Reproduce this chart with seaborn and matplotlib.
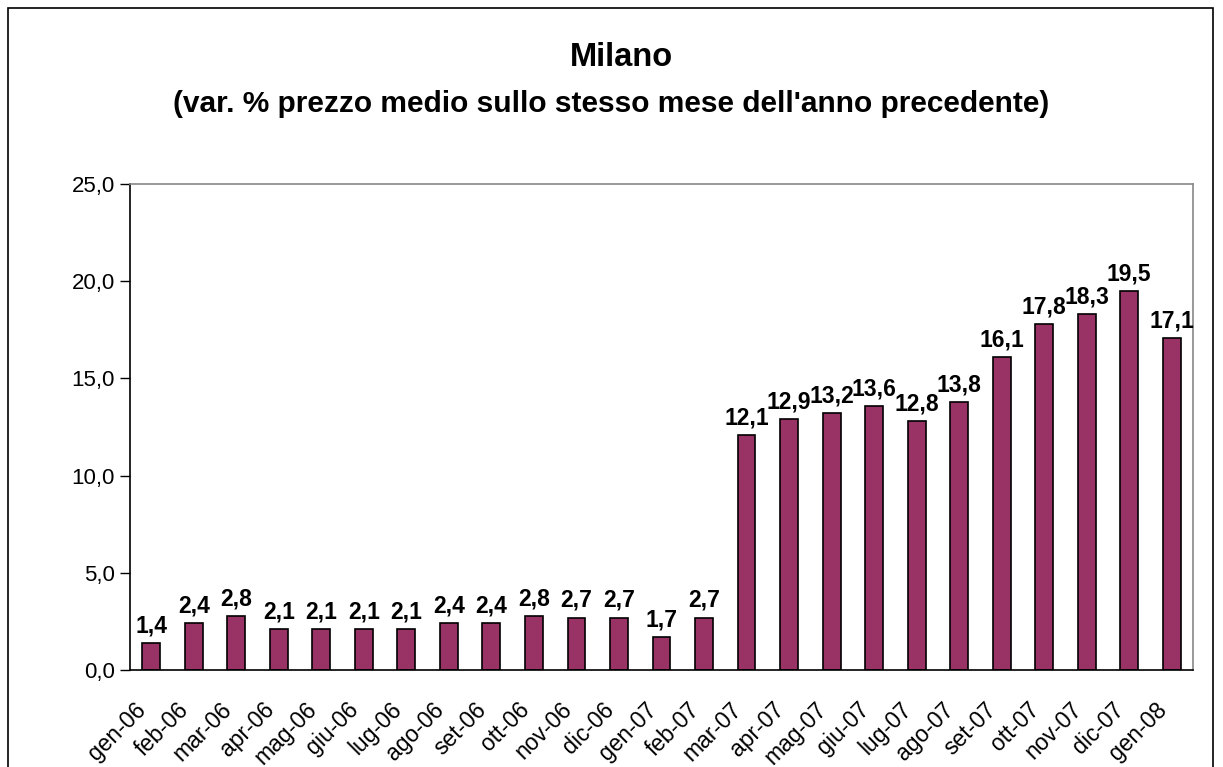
import matplotlib
matplotlib.use("Agg")
import matplotlib.pyplot as plt
import matplotlib.patches as mpatches
import seaborn as sns
import pandas as pd
import numpy as np

months = ["gen-06", "feb-06", "mar-06", "apr-06", "mag-06", "giu-06", "lug-06", "ago-06",
          "set-06", "ott-06", "nov-06", "dic-06", "gen-07", "feb-07", "mar-07", "apr-07",
          "mag-07", "giu-07", "lug-07", "ago-07", "set-07", "ott-07", "nov-07", "dic-07", "gen-08"]
values = [1.4, 2.4, 2.8, 2.1, 2.1, 2.1, 2.1, 2.4, 2.4, 2.8, 2.7, 2.7, 1.7, 2.7,
          12.1, 12.9, 13.2, 13.6, 12.8, 13.8, 16.1, 17.8, 18.3, 19.5, 17.1]
yticks = [0, 5, 10, 15, 20, 25]

sns.set_style("white")
plt.rcParams['font.family'] = ['Liberation Sans', 'DejaVu Sans']
plt.rcParams['text.color'] = 'black'
plt.rcParams['xtick.color'] = 'black'
plt.rcParams['ytick.color'] = 'black'

fig = plt.figure(figsize=(12.23, 7.67), dpi=100)
ax = fig.add_axes([130/1223, 1-670/767, (1193-130)/1223, (670-184)/767])

df = pd.DataFrame({"mese": months, "var": values})
sns.barplot(data=df, x="mese", y="var", ax=ax, color="#993366", saturation=1,
            width=0.42, edgecolor="black", linewidth=1.2)

ax.set_xlim(-0.5, len(months) - 0.5)
ax.set_ylim(0, 25)
ax.set_yticks(yticks)
ax.set_yticklabels([f"{v:.1f}".replace(".", ",") for v in yticks], fontsize=16)
# labels slightly left of bar centres, as in the reference
ax.set_xticks(np.arange(len(months)) - 0.2)
ax.set_xticklabels(months, rotation=45, ha="right", va="center", rotation_mode="anchor", fontsize=16.5)
ax.set_xticks(np.arange(-0.5, len(months), 1), minor=True)
ax.tick_params(axis="x", which="major", length=0, pad=26)
ax.tick_params(axis="x", which="minor", length=7, width=1, color="black", direction="out")
ax.tick_params(axis="y", length=7, width=1, color="black", direction="out", left=True, pad=4)
ax.set_xlabel("")
ax.set_ylabel("")

for side in ["left", "bottom"]:
    ax.spines[side].set_color("black")
    ax.spines[side].set_linewidth(1.2)
for side in ["top", "right"]:
    ax.spines[side].set_visible(True)
    ax.spines[side].set_color("#888888")
    ax.spines[side].set_linewidth(1.2)

labels = [f"{v:.1f}".replace(".", ",") for v in values]
ax.bar_label(ax.containers[0], labels=labels, padding=4, fontsize=16.5, fontweight="bold")

fig.text(0.508, 1-57/767, "Milano", ha="center", va="center", fontsize=23.5, fontweight="bold")
fig.text(0.5, 1-104/767, "(var. % prezzo medio sullo stesso mese dell'anno precedente)",
         ha="center", va="center", fontsize=21.5, fontweight="bold")

frame = mpatches.Rectangle((8/1223, -0.1), (1213-8)/1223, 1.1 - 8/767, transform=fig.transFigure,
                           fill=False, edgecolor="black", linewidth=1.2)
fig.patches.append(frame)

fig.savefig("out.png", dpi=100)
